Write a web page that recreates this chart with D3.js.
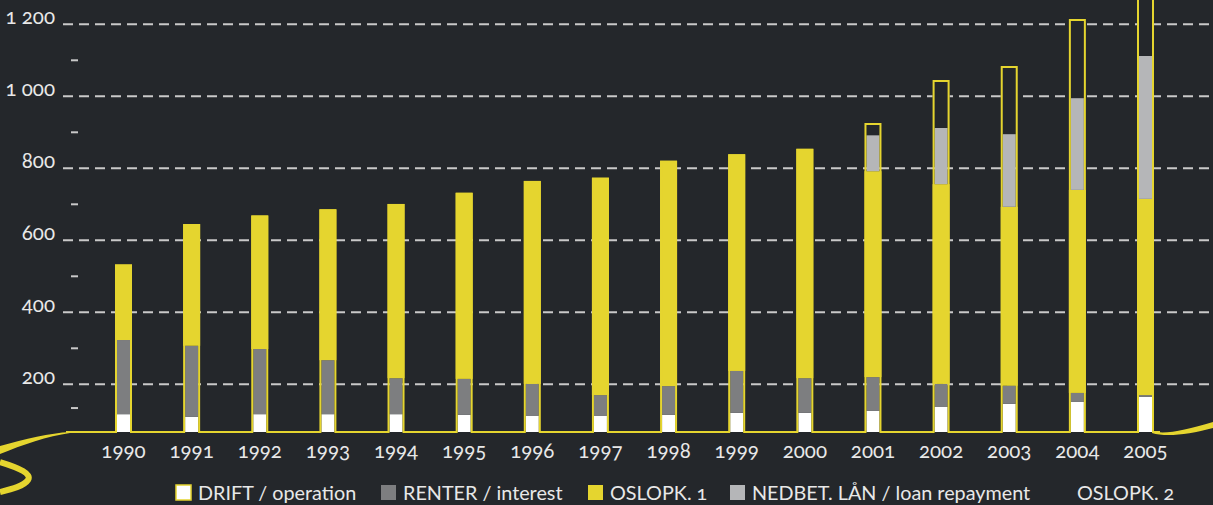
<!DOCTYPE html>
<html><head><meta charset="utf-8">
<script src="https://cdn.jsdelivr.net/npm/d3@7"></script>
<style>
html,body{margin:0;padding:0;background:#24272b;overflow:hidden}
svg{display:block}
text{font-family:Lato,"Noto Sans",sans-serif;font-variant-numeric:oldstyle-nums;font-feature-settings:"onum" 1;fill:#e8e8e8}
</style></head><body>
<svg id="c" width="1213" height="505"></svg>
<script>
const years = [1990,1991,1992,1993,1994,1995,1996,1997,1998,1999,2000,2001,2002,2003,2004,2005];
const drift   = [117,110,117,117,117,115,113,113,115,121,121,126,137,146,151,165];
const renter  = [206,197,181,150,100,100, 88, 57, 80,116, 96, 94, 64, 50, 25,  5];
const oslopk1 = [210,338,371,419,484,517,564,604,626,602,637,572,555,497,564,545];
const nedbet  = [  0,  0,  0,  0,  0,  0,  0,  0,  0,  0,  0,100,156,202,255,397];
const oslopk2 = [  0,  0,  0,  0,  0,  0,  0,  0,  0,  0,  0, 34,133,189,220,190];
const yTicks = [200,400,600,800,1000,1200];
const yMinorTicks = [134,300,500,700,900,1100];
const floorValue = 67.5;   // value at which the drawn base line sits
const legendItems = [
  {label:"DRIFT / operation", key:"drift"},
  {label:"RENTER / interest", key:"renter"},
  {label:"OSLOPK. 1", key:"oslopk1"},
  {label:"NEDBET. LÅN / loan repayment", key:"nedbet"},
  {label:"OSLOPK. 2", key:"oslopk2"}
];

const colors = {drift:"#ffffff", renter:"#7d7e80", oslopk1:"#e5d52f", nedbet:"#b5b6b8", oslopk2:"none"};
const YEL = "#e5d52f", BG = "#24272b";

const svg = d3.select("#c");
const x = d3.scalePoint().domain(years).range([123.5,1145.5]);
const y = d3.scaleLinear().domain([0,1200]).range([456.3,24.3]);
const bw = 17, inset = 2;
const baseY = y(floorValue);

const table = years.map((yr,i)=>({year:yr, drift:drift[i], renter:renter[i], oslopk1:oslopk1[i], nedbet:nedbet[i], oslopk2:oslopk2[i]}));
const keys = ["drift","renter","oslopk1","nedbet","oslopk2"];
const series = d3.stack().keys(keys)(table);

// gridlines
const grid = svg.append("g");
grid.selectAll("line").data(yTicks).join("line")
  .attr("x1",63).attr("x2",1213)
  .attr("y1",d=>y(d)).attr("y2",d=>y(d))
  .attr("stroke","#c9c9c9").attr("stroke-width",2).attr("stroke-dasharray","10 6");
grid.selectAll("text").data(yTicks).join("text")
  .attr("x",55).attr("y",d=>y(d)-0.5).attr("text-anchor","end")
  .attr("font-size",20.5).text(d=>d3.format(",")(d).replace(","," "));
svg.append("g").selectAll("line").data(yMinorTicks).join("line")
  .attr("x1",71).attr("x2",78).attr("y1",d=>y(d)).attr("y2",d=>y(d))
  .attr("stroke","#c9c9c9").attr("stroke-width",2);

// bars
const bars = svg.append("g");
series.forEach(s=>{
  const k = s.key;
  if (k==="oslopk2") {
    bars.append("g").selectAll("rect").data(s.filter(d=>d[1]>d[0])).join("rect")
      .attr("x",d=>x(d.data.year)-bw/2).attr("width",bw)
      .attr("y",d=>y(d[1])).attr("height",d=>y(d[0])-y(d[1]))
      .attr("fill",BG);
    return;
  }
  const full = k==="oslopk1";
  bars.append("g").selectAll("rect").data(s.filter(d=>d[1]>d[0])).join("rect")
    .attr("x",d=>x(d.data.year)-bw/2+(full?0:inset)).attr("width",full?bw:bw-2*inset)
    .attr("y",d=>y(d[1]))
    .attr("height",d=>Math.max(0,Math.min(y(d[0]),baseY)-y(d[1])))
    .attr("fill",colors[k]);
});

// continuous yellow outline along base and around bars
const p = d3.path();
p.moveTo(66, baseY);
table.forEach(d=>{
  const total = keys.reduce((a,k)=>a+d[k],0);
  const l = x(d.year)-bw/2+1, r = x(d.year)+bw/2-1, t = y(total)+1;
  p.lineTo(l, baseY); p.lineTo(l, t); p.lineTo(r, t); p.lineTo(r, baseY);
});
p.lineTo(1160, baseY);
svg.append("path").attr("d",p.toString()).attr("fill","none").attr("stroke",YEL).attr("stroke-width",2).attr("stroke-linejoin","miter");

// swooshes
svg.append("path")
  .attr("d",`M70,${baseY} C50,${baseY+1} 25,${baseY+7} 0,${baseY+14} L0,${baseY+22} C22,${baseY+13} 48,${baseY+4} 70,${baseY+1} Z`)
  .attr("fill",YEL);
svg.append("path")
  .attr("d",`M0,${baseY+30} C20,${baseY+36} 32,${baseY+42} 28,${baseY+48} C24,${baseY+54} 12,${baseY+57} 0,${baseY+60}`)
  .attr("fill","none").attr("stroke",YEL).attr("stroke-width",6);
svg.append("path")
  .attr("d",`M1152,${baseY-1} C1165,${baseY+3} 1185,${baseY-2} 1213,${baseY-10} L1213,${baseY-4} C1188,${baseY+3} 1165,${baseY+5} 1152,${baseY+1} Z`)
  .attr("fill",YEL);

// year labels
svg.append("g").selectAll("text").data(years).join("text")
  .attr("x",d=>x(d)).attr("y",458).attr("text-anchor","middle").attr("font-size",20.5)
  .text(d=>d);

// legend
const legX = [176,381,588,730,1077];
const lg = svg.append("g");
legendItems.forEach((it,i)=>{
  const hasSw = it.key!=="oslopk2";
  if (hasSw) {
    lg.append("rect").attr("x",legX[i]).attr("y",485).attr("width",15).attr("height",15)
      .attr("fill",colors[it.key]).attr("stroke", it.key==="drift"?YEL:"none").attr("stroke-width",it.key==="drift"?1.5:0);
  }
  lg.append("text").attr("x",hasSw?legX[i]+22:legX[i]).attr("y",500).attr("font-size",19.8).text(it.label);
});
</script></body></html>
